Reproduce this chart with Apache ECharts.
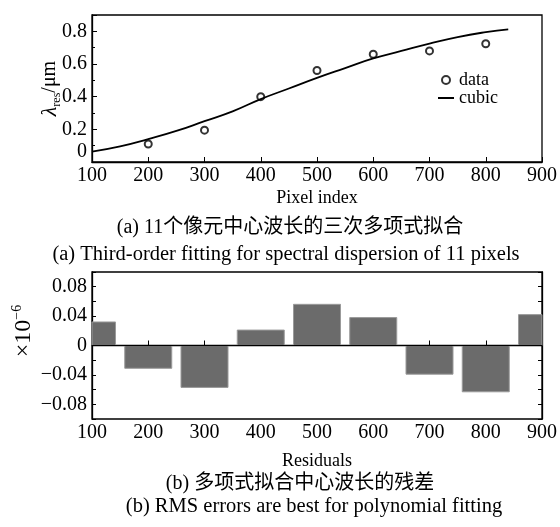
<!DOCTYPE html>
<html>
<head>
<meta charset="utf-8">
<script src="https://cdn.jsdelivr.net/npm/echarts@6/dist/echarts.min.js"></script>
<style>
  html, body { margin: 0; padding: 0; background: #fff; }
  #chartContainer { width: 560px; height: 527px; }
</style>
</head>
<body>
<div id="chartContainer"></div>
<script>
// (a) measured points and cubic fit
const pixelIndex = [200, 300, 400, 500, 600, 700, 800];
const lambdaRes = [0.11, 0.195, 0.40, 0.56, 0.66, 0.68, 0.724];
const cubicX = [100, 150, 200, 250, 300, 350, 400, 450, 500, 550, 600, 650, 700, 750, 800, 840];
const cubicY = [0.063, 0.095, 0.14, 0.19, 0.25, 0.31, 0.385, 0.45, 0.515, 0.575, 0.634, 0.68, 0.725, 0.765, 0.795, 0.812];

// (b) residuals, x10^-6
const residX = [100, 200, 300, 400, 500, 600, 700, 800, 900];
const residY = [0.032, -0.031, -0.057, 0.021, 0.056, 0.038, -0.039, -0.063, 0.042];

const xTicks = [100, 200, 300, 400, 500, 600, 700, 800, 900];

const serif = "'Liberation Serif', 'Noto Sans CJK SC', serif";
const black = '#000';

let chart = null;

document.addEventListener('DOMContentLoaded', function() {
    chart = echarts.init(document.getElementById('chartContainer'));
    drawChart();
});

function minus(v, digits) {
    if (Math.abs(v) < 1e-9) return '0';
    return (v < 0 ? '\u2212' : '') + Math.abs(v).toFixed(digits);
}

function xAxisCfg(gridIndex, name, gap) {
    return {
        type: 'value', gridIndex: gridIndex,
        min: xTicks[0], max: xTicks[xTicks.length - 1], interval: 100,
        name: name, nameLocation: 'middle', nameGap: gap,
        nameTextStyle: { fontFamily: serif, fontSize: 18, color: black },
        axisLine: { show: true, lineStyle: { color: black, width: 1.3 } },
        axisTick: { show: true, inside: true, length: 5, lineStyle: { color: black } },
        axisLabel: { fontFamily: serif, fontSize: 20, color: black, margin: 4 },
        splitLine: { show: false }
    };
}

// bars drawn through the axis scales, clipped to the plot box
function renderResidual(params, api) {
    const w = 47;
    const p0 = api.coord([api.value(0), 0]);
    const p1 = api.coord([api.value(0), api.value(1)]);
    const cs = params.coordSys;
    const rect = echarts.graphic.clipRectByRect(
        { x: p0[0] - w / 2, y: Math.min(p0[1], p1[1]), width: w, height: Math.abs(p1[1] - p0[1]) },
        { x: cs.x, y: cs.y, width: cs.width, height: cs.height }
    );
    if (!rect) return;
    return {
        type: 'rect', shape: rect,
        style: { fill: '#6b6b6b', stroke: '#9a9a9a', lineWidth: 1 }
    };
}

function drawChart() {
    const option = {
        animation: false,
        backgroundColor: '#fff',
        grid: [
            { left: 92, right: 14, top: 15, height: 147, show: true, borderColor: black, borderWidth: 1.3 },
            { left: 92, right: 14, top: 272, height: 147, show: true, borderColor: black, borderWidth: 1.3 }
        ],
        legend: {
            orient: 'vertical', left: 432, top: 66, padding: 5,
            itemWidth: 16, itemHeight: 8, itemGap: 0,
            textStyle: { fontFamily: serif, fontSize: 18, color: black },
            data: [
                { name: 'data' },
                { name: 'cubic', itemStyle: { opacity: 0 } }
            ]
        },
        xAxis: [
            xAxisCfg(0, 'Pixel index', 27),
            xAxisCfg(1, 'Residuals', 33)
        ],
        yAxis: [
            {
                type: 'value', gridIndex: 0, min: 0, max: 0.9, interval: 0.2,
                name: '{l|\u03bb}{s|res}{n|/\u03bcm}', nameLocation: 'middle', nameGap: 29, nameRotate: 90,
                nameMoveOverlap: false,
                nameTextStyle: {
                    color: black,
                    rich: {
                        l: { fontFamily: serif, fontSize: 22, fontStyle: 'italic', color: black, lineHeight: 26 },
                        s: { fontFamily: serif, fontSize: 12, color: black, verticalAlign: 'bottom', lineHeight: 26 },
                        n: { fontFamily: serif, fontSize: 20, color: black, lineHeight: 26 }
                    }
                },
                axisLine: { show: true, lineStyle: { color: black, width: 1.3 } },
                axisTick: { show: true, inside: true, length: 5, lineStyle: { color: black } },
                minorTick: { show: true, splitNumber: 2, length: 3, lineStyle: { color: black } },
                axisLabel: {
                    fontFamily: serif, fontSize: 20, color: black, margin: 5,
                    verticalAlignMinLabel: 'bottom',
                    formatter: v => (Math.abs(v - 0.9) < 1e-9 ? '' : String(+v.toFixed(1)))
                },
                splitLine: { show: false }
            },
            {
                type: 'value', gridIndex: 1, min: -0.1, max: 0.1, interval: 0.02,
                axisLine: { show: true, lineStyle: { color: black, width: 1.3 } },
                axisTick: { show: true, inside: true, length: 4, lineStyle: { color: black } },
                axisLabel: {
                    fontFamily: serif, fontSize: 20, color: black, margin: 5,
                    formatter: function(v) {
                        const k = Math.round(v / 0.04);
                        if (Math.abs(k * 0.04 - v) > 1e-9 || Math.abs(v) > 0.09) return '';
                        return minus(v, 2);
                    }
                },
                splitLine: { show: false }
            },
            {
                type: 'value', gridIndex: 1, min: -0.1, max: 0.1, interval: 0.02, position: 'right',
                axisLine: { show: true, lineStyle: { color: black, width: 1.3 } },
                axisTick: { show: true, inside: true, length: 4, lineStyle: { color: black } },
                axisLabel: { show: false },
                splitLine: { show: false }
            }
        ],
        graphic: [
            {
                type: 'text', x: 24, y: 331, rotation: Math.PI / 2,
                style: {
                    text: '{a|\u00d710}{b|\u22126}', align: 'center', verticalAlign: 'middle',
                    rich: {
                        a: { fontFamily: serif, fontSize: 24, fill: black, lineHeight: 28 },
                        b: { fontFamily: serif, fontSize: 14, fill: black, verticalAlign: 'top', lineHeight: 28 }
                    }
                }
            },
            { type: 'text', x: 290, y: 228, style: { text: '(a) 11个像元中心波长的三次多项式拟合', font: '20px ' + serif, fill: black, align: 'center', verticalAlign: 'middle' } },
            { type: 'text', x: 286, y: 255, style: { text: '(a) Third-order fitting for spectral dispersion of 11 pixels', font: '20.5px ' + serif, fill: black, align: 'center', verticalAlign: 'middle' } },
            { type: 'text', x: 300, y: 484, style: { text: '(b) 多项式拟合中心波长的残差', font: '20px ' + serif, fill: black, align: 'center', verticalAlign: 'middle' } },
            { type: 'text', x: 314, y: 507, style: { text: '(b) RMS errors are best for polynomial fitting', font: '20.5px ' + serif, fill: black, align: 'center', verticalAlign: 'middle' } }
        ],
        series: [
            {
                name: 'data', type: 'scatter', xAxisIndex: 0, yAxisIndex: 0,
                data: pixelIndex.map((x, i) => [x, lambdaRes[i]]),
                symbol: 'emptyCircle', symbolSize: 7,
                itemStyle: { color: black, borderWidth: 1.3 }
            },
            {
                name: 'cubic', type: 'line', xAxisIndex: 0, yAxisIndex: 0,
                data: cubicX.map((x, i) => [x, cubicY[i]]),
                smooth: true, symbol: 'none',
                lineStyle: { color: black, width: 1.8 },
                itemStyle: { color: black }
            },
            {
                name: 'residual', type: 'custom', xAxisIndex: 1, yAxisIndex: 1,
                data: residX.map((x, i) => [x, residY[i]]),
                renderItem: renderResidual,
                markLine: {
                    silent: true, symbol: 'none', label: { show: false },
                    lineStyle: { color: black, type: 'solid', width: 1.2 },
                    data: [{ yAxis: 0 }]
                }
            }
        ]
    };
    chart.setOption(option, true);
}
</script>
</body>
</html>
